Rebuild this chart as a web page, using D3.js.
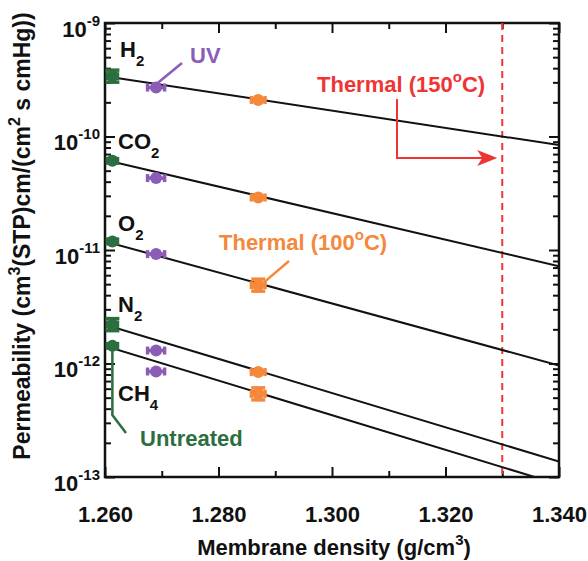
<!DOCTYPE html>
<html>
<head>
<meta charset="utf-8">
<script src="https://cdn.jsdelivr.net/npm/d3@7"></script>
<style>
  body { margin: 0; background: #fff; }
  svg text { font-family: "Liberation Sans", Arial, Helvetica, sans-serif; font-weight: bold; }
</style>
</head>
<body>
<svg id="chart" width="588" height="561"></svg>
<script>
// Gases, in order from most to least permeable
const gases = ["H2", "CO2", "O2", "N2", "CH4"];
const gasLabels = [["H", "2"], ["CO", "2"], ["O", "2"], ["N", "2"], ["CH", "4"]];

// Membrane densities (g/cm3) of each treatment
const densityUntreated = 1.2613;
const densityUV = 1.2690;
const densityThermal100 = 1.2870;
const densityThermal150 = 1.330;

// Permeability, cm3(STP)cm/(cm2 s cmHg), per gas
const untreated = [3.4e-10, 6.1e-11, 1.19e-11, 2.2e-12, 1.43e-12];
const uv = [2.7e-10, 4.3e-11, 9.2e-12, 1.3e-12, 8.5e-13];
const thermal100 = [2.1e-10, 2.9e-11, 4.9e-12, 8.4e-13, 5.4e-13];

// Vertical error (multiplicative) per gas; 1 = no bar
const untreatedErr = [1.13, 1.0, 1.0, 1.13, 1.0];
const uvErr = [1.0, 1.0, 1.0, 1.0, 1.0];
const thermal100Err = [1.0, 1.0, 1.13, 1.0, 1.13];

// Horizontal (density) error per treatment
const densityErr = [0.0009, 0.0015, 0.0012];

// Log-linear fits: permeability at density 1.260 and 1.340
const fitDensity = [1.260, 1.340];
const fitStart = [3.4e-10, 6.2e-11, 1.19e-11, 2.2e-12, 1.43e-12];
const fitEnd = [8.4e-11, 7.2e-12, 9.6e-13, 1.37e-13, 8.6e-14];

// Axis ticks
const xMajor = [1.260, 1.280, 1.300, 1.320, 1.340];
const xMinor = [1.270, 1.290, 1.310, 1.330];
const yMajorExp = [-9, -10, -11, -12, -13];

const colors = { untreated: "#2b6e3f", uv: "#8c5db5", thermal100: "#f5883a", thermal150: "#ef3434" };

const margin = { top: 23, right: 29, bottom: 84, left: 105 };
const W = 588, H = 561;
const iw = W - margin.left - margin.right;
const ih = H - margin.top - margin.bottom;

const svg = d3.select("#chart");
const g = svg.append("g").attr("transform", `translate(${margin.left},${margin.top})`);

const x = d3.scaleLinear().domain([1.260, 1.340]).range([0, iw]);
const y = d3.scaleLog().domain([1e-13, 1e-9]).range([ih, 0]);

svg.append("defs").append("clipPath").attr("id", "plotClip")
  .append("rect").attr("width", iw).attr("height", ih);

// Minor log ticks
const yMinor = [];
for (let e = -13; e < -9; e++) for (let m = 2; m <= 9; m++) yMinor.push(m * Math.pow(10, e));
const yMajor = yMajorExp.map(e => Math.pow(10, e));

function styleAxis(sel) {
  sel.select(".domain").remove();
  sel.selectAll(".tick line").attr("stroke", "#111").attr("stroke-width", 2);
}

// Bottom axis
g.append("g").attr("transform", `translate(0,${ih})`)
  .call(d3.axisBottom(x).tickValues(xMajor).tickSizeInner(-10).tickSizeOuter(0).tickPadding(29).tickFormat(d3.format(".3f")))
  .call(styleAxis)
  .call(s => s.selectAll(".tick text").attr("font-size", 22).attr("fill", "#111"));
g.append("g").attr("transform", `translate(0,${ih})`)
  .call(d3.axisBottom(x).tickValues(xMinor).tickSizeInner(-6).tickSizeOuter(0).tickFormat(""))
  .call(styleAxis);
// Top axis
g.append("g")
  .call(d3.axisTop(x).tickValues(xMajor).tickSizeInner(-10).tickSizeOuter(0).tickFormat(""))
  .call(styleAxis);
g.append("g")
  .call(d3.axisTop(x).tickValues(xMinor).tickSizeInner(-6).tickSizeOuter(0).tickFormat(""))
  .call(styleAxis);
// Left axis
const left = g.append("g")
  .call(d3.axisLeft(y).tickValues(yMajor).tickSizeInner(-10).tickSizeOuter(0).tickFormat(""))
  .call(styleAxis);
g.append("g")
  .call(d3.axisLeft(y).tickValues(yMinor).tickSizeInner(-6).tickSizeOuter(0).tickFormat(""))
  .call(styleAxis);
// Right axis
g.append("g").attr("transform", `translate(${iw},0)`)
  .call(d3.axisRight(y).tickValues(yMajor).tickSizeInner(-10).tickSizeOuter(0).tickFormat(""))
  .call(styleAxis);
g.append("g").attr("transform", `translate(${iw},0)`)
  .call(d3.axisRight(y).tickValues(yMinor).tickSizeInner(-6).tickSizeOuter(0).tickFormat(""))
  .call(styleAxis);

// Y tick labels as 10^n
left.selectAll(".tick").each(function(d) {
  const e = Math.round(Math.log10(d));
  const t = d3.select(this).append("text")
    .attr("x", -5).attr("y", 13).attr("text-anchor", "end").attr("fill", "#111").attr("font-size", 22);
  t.append("tspan").text("10");
  t.append("tspan").attr("font-size", 15).attr("dy", -11).text(String(e));
});

// Frame
g.append("rect").attr("width", iw).attr("height", ih)
  .attr("fill", "none").attr("stroke", "#111").attr("stroke-width", 2.5);

// Thermal (150 °C) density marker
g.append("line")
  .attr("x1", x(densityThermal150)).attr("x2", x(densityThermal150))
  .attr("y1", 0).attr("y2", ih)
  .attr("stroke", colors.thermal150).attr("stroke-width", 2).attr("stroke-dasharray", "7,5");

// Fit lines
const plot = g.append("g").attr("clip-path", "url(#plotClip)");
gases.forEach((gas, i) => {
  plot.append("path")
    .datum([[fitDensity[0], fitStart[i]], [fitDensity[1], fitEnd[i]]])
    .attr("d", d3.line().x(d => x(d[0])).y(d => y(d[1])))
    .attr("fill", "none").attr("stroke", "#111").attr("stroke-width", 2);
});

// Data points with error bars
const series = [
  { density: densityUntreated, values: untreated, err: untreatedErr, dErr: densityErr[0], color: colors.untreated },
  { density: densityUV, values: uv, err: uvErr, dErr: densityErr[1], color: colors.uv },
  { density: densityThermal100, values: thermal100, err: thermal100Err, dErr: densityErr[2], color: colors.thermal100 }
];
series.forEach(s => {
  const grp = g.append("g").attr("stroke", s.color).attr("fill", s.color).attr("stroke-width", 3.5);
  s.values.forEach((v, i) => {
    const cx = x(s.density), cy = y(v);
    const xl = x(s.density - s.dErr), xr = x(s.density + s.dErr);
    grp.append("line").attr("x1", xl).attr("x2", xr).attr("y1", cy).attr("y2", cy);
    grp.append("line").attr("x1", xl).attr("x2", xl).attr("y1", cy - 4).attr("y2", cy + 4);
    grp.append("line").attr("x1", xr).attr("x2", xr).attr("y1", cy - 4).attr("y2", cy + 4);
    if (s.err[i] > 1) {
      const yt = y(v * s.err[i]), yb = y(v / s.err[i]);
      grp.append("line").attr("x1", cx).attr("x2", cx).attr("y1", yt).attr("y2", yb);
      grp.append("line").attr("x1", cx - 7).attr("x2", cx + 7).attr("y1", yt).attr("y2", yt);
      grp.append("line").attr("x1", cx - 7).attr("x2", cx + 7).attr("y1", yb).attr("y2", yb);
    }
    grp.append("circle").attr("cx", cx).attr("cy", cy).attr("r", 6).attr("stroke", "none");
  });
});

// Gas labels (pixel positions within the plot)
const gasLabelPos = [[15, 34], [13, 126], [13, 208], [13, 289], [13, 378]];
gases.forEach((gas, i) => {
  const t = g.append("text").attr("x", gasLabelPos[i][0]).attr("y", gasLabelPos[i][1])
    .attr("font-size", 22).attr("fill", "#111");
  t.append("tspan").text(gasLabels[i][0]);
  t.append("tspan").attr("font-size", 15).attr("dy", 9).text(gasLabels[i][1]);
});

// Annotations
function annot(text, sup, rest, px, py, color) {
  const t = g.append("text").attr("x", px).attr("y", py).attr("font-size", 22).attr("fill", color);
  t.append("tspan").text(text);
  if (sup) {
    t.append("tspan").attr("font-size", 15).attr("dy", -10).text(sup);
    t.append("tspan").attr("dy", 10).text(rest);
  }
  return t;
}
annot("UV", null, null, 85, 40, colors.uv);
g.append("line").attr("x1", 77).attr("y1", 40).attr("x2", x(densityUV) + 1).attr("y2", y(uv[0]) - 4)
  .attr("stroke", colors.uv).attr("stroke-width", 2.5);

annot("Thermal (150", "o", "C)", 212, 69, colors.thermal150);
g.append("path")
  .attr("d", `M292,76 V135 H${x(densityThermal150) - 20}`)
  .attr("fill", "none").attr("stroke", colors.thermal150).attr("stroke-width", 2);
g.append("path")
  .attr("d", `M${x(densityThermal150) - 5},135 l-20,-8 l5,8 l-5,8 z`)
  .attr("fill", colors.thermal150);

annot("Thermal (100", "o", "C)", 114, 227, colors.thermal100);
g.append("line").attr("x1", 184).attr("y1", 238).attr("x2", x(densityThermal100) + 6).attr("y2", y(thermal100[2]) - 3)
  .attr("stroke", colors.thermal100).attr("stroke-width", 2.5);

annot("Untreated", null, null, 35, 423, colors.untreated);
g.append("path")
  .attr("d", `M${x(densityUntreated)},${y(untreated[4])} V392 L21,410`)
  .attr("fill", "none").attr("stroke", colors.untreated).attr("stroke-width", 2.5);

// Axis titles
const xt = svg.append("text").attr("x", margin.left + iw / 2 + 2).attr("y", 555)
  .attr("text-anchor", "middle").attr("font-size", 22).attr("fill", "#111");
xt.append("tspan").text("Membrane density (g/cm");
xt.append("tspan").attr("font-size", 15).attr("dy", -10).text("3");
xt.append("tspan").attr("dy", 10).text(")");

const yt = svg.append("text").attr("transform", `translate(30,236) rotate(-90)`)
  .attr("text-anchor", "middle").attr("font-size", 23).attr("fill", "#111");
yt.append("tspan").text("Permeability (cm");
yt.append("tspan").attr("font-size", 16).attr("dy", -10).text("3");
yt.append("tspan").attr("dy", 10).text("(STP)cm/(cm");
yt.append("tspan").attr("font-size", 16).attr("dy", -10).text("2");
yt.append("tspan").attr("dy", 10).text(" s cmHg))");
</script>
</body>
</html>
